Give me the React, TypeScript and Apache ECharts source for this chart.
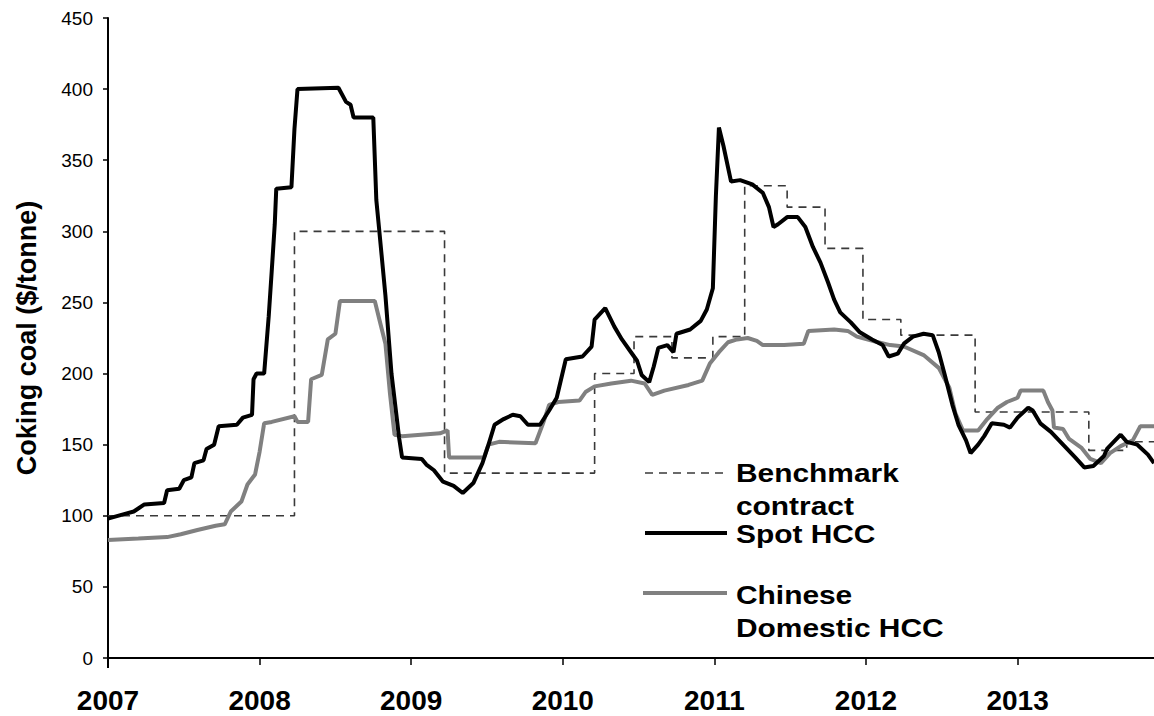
import React, { useEffect, useRef } from "react";
import * as echarts from "echarts";

// Year ticks
const yearTicks = [2007, 2008, 2009, 2010, 2011, 2012, 2013];

// Benchmark contract (step changes: [year, $/tonne])
const benchmark: [number, number][] = [
  [2007.0, 100],
  [2008.23, 300],
  [2009.22, 130],
  [2010.21, 200],
  [2010.47, 226],
  [2010.72, 211],
  [2010.99, 226],
  [2011.2, 332],
  [2011.48, 317],
  [2011.73, 288],
  [2011.98, 238],
  [2012.23, 227],
  [2012.72, 173],
  [2013.47, 146],
  [2013.72, 152],
  [2013.9, 152],
];

// Spot HCC
const spotHcc: [number, number][] = [
  [2007.0, 98], [2007.1, 101], [2007.17, 103], [2007.24, 108], [2007.37, 109],
  [2007.39, 118], [2007.47, 119], [2007.5, 125], [2007.55, 127], [2007.57, 137],
  [2007.63, 139], [2007.65, 147], [2007.7, 150], [2007.73, 163], [2007.85, 164],
  [2007.89, 169], [2007.95, 171], [2007.96, 196], [2007.98, 200], [2008.03, 200],
  [2008.06, 240], [2008.08, 272], [2008.1, 305], [2008.11, 330], [2008.21, 331],
  [2008.23, 372], [2008.25, 400], [2008.52, 401], [2008.57, 391], [2008.6, 389],
  [2008.62, 380], [2008.75, 380], [2008.77, 322], [2008.79, 300], [2008.83, 255],
  [2008.87, 200], [2008.92, 155], [2008.94, 141], [2009.07, 140], [2009.1, 136],
  [2009.15, 132], [2009.21, 124], [2009.28, 121], [2009.34, 116], [2009.41, 123],
  [2009.47, 137], [2009.51, 150], [2009.55, 164], [2009.61, 168], [2009.67, 171],
  [2009.72, 170], [2009.77, 164], [2009.85, 164], [2009.91, 174], [2009.96, 183],
  [2010.02, 210], [2010.13, 212], [2010.19, 219], [2010.21, 238], [2010.28, 246],
  [2010.34, 233], [2010.39, 224], [2010.45, 215], [2010.49, 209], [2010.52, 199],
  [2010.57, 194], [2010.6, 205], [2010.63, 218], [2010.69, 220], [2010.73, 215],
  [2010.75, 228], [2010.84, 231], [2010.91, 237], [2010.95, 245], [2010.99, 260],
  [2011.01, 325], [2011.03, 373], [2011.06, 360], [2011.11, 335], [2011.17, 336],
  [2011.25, 333], [2011.32, 327], [2011.36, 317], [2011.39, 303], [2011.42, 305],
  [2011.48, 310], [2011.55, 310], [2011.6, 303], [2011.65, 289], [2011.7, 278],
  [2011.75, 264], [2011.79, 252], [2011.83, 243], [2011.9, 236], [2011.96, 229],
  [2012.04, 224], [2012.11, 220], [2012.15, 212], [2012.21, 214], [2012.25, 221],
  [2012.31, 226], [2012.38, 228], [2012.44, 227], [2012.48, 215], [2012.52, 199],
  [2012.57, 178], [2012.61, 164], [2012.66, 153], [2012.69, 144], [2012.74, 150],
  [2012.78, 156], [2012.83, 165], [2012.91, 164], [2012.95, 162], [2013.0, 169],
  [2013.07, 176], [2013.1, 174], [2013.15, 165], [2013.22, 159], [2013.3, 150],
  [2013.38, 141], [2013.44, 134], [2013.5, 135], [2013.57, 142], [2013.59, 147],
  [2013.68, 157], [2013.72, 152], [2013.79, 150], [2013.86, 143], [2013.9, 137],
];

// Chinese Domestic HCC
const chineseHcc: [number, number][] = [
  [2007.0, 83], [2007.2, 84], [2007.39, 85], [2007.48, 87], [2007.59, 90],
  [2007.71, 93], [2007.77, 94], [2007.81, 103], [2007.88, 110], [2007.92, 122],
  [2007.97, 129], [2008.0, 145], [2008.03, 165], [2008.08, 166], [2008.23, 170],
  [2008.25, 166], [2008.32, 166], [2008.34, 196], [2008.41, 199], [2008.45, 224],
  [2008.5, 228], [2008.53, 251], [2008.76, 251], [2008.79, 238], [2008.83, 221],
  [2008.86, 186], [2008.89, 157], [2008.94, 156], [2009.19, 158], [2009.24, 160],
  [2009.25, 141], [2009.48, 141], [2009.51, 150], [2009.58, 152], [2009.82, 151],
  [2009.87, 165], [2009.91, 178], [2009.97, 180], [2010.11, 181], [2010.15, 187],
  [2010.21, 191], [2010.32, 193], [2010.45, 195], [2010.54, 193], [2010.59, 185],
  [2010.67, 188], [2010.83, 192], [2010.92, 195], [2010.97, 207], [2011.03, 215],
  [2011.09, 222], [2011.15, 224], [2011.22, 225], [2011.28, 223], [2011.32, 220],
  [2011.46, 220], [2011.59, 221], [2011.62, 230], [2011.79, 231], [2011.88, 230],
  [2011.94, 226], [2012.08, 222], [2012.16, 220], [2012.25, 219], [2012.38, 213],
  [2012.48, 204], [2012.55, 190], [2012.59, 172], [2012.64, 160], [2012.74, 160],
  [2012.8, 168], [2012.87, 176], [2012.93, 180], [2013.0, 183], [2013.02, 188],
  [2013.17, 188], [2013.2, 180], [2013.23, 174], [2013.24, 162], [2013.3, 161],
  [2013.34, 154], [2013.42, 148], [2013.48, 140], [2013.55, 137], [2013.61, 144],
  [2013.68, 149], [2013.76, 153], [2013.81, 163], [2013.9, 163],
];

const legendLabels = {
  benchmark: ["Benchmark", "contract"],
  spot: ["Spot HCC"],
  chinese: ["Chinese", "Domestic HCC"],
};

const FONT = '"Liberation Sans", Arial, sans-serif';

export default function App() {
  const ref = useRef<HTMLDivElement>(null);

  useEffect(() => {
    if (!ref.current) return;
    const chart = echarts.init(ref.current, undefined, { renderer: "svg" });

    const legendText = (text: string, x: number, y: number) => ({
      type: "text",
      x,
      y,
      scaleX: 1.15,
      style: {
        text,
        fontFamily: FONT,
        fontSize: 26,
        fontWeight: "bold",
        fill: "#000",
        textAlign: "left",
        textVerticalAlign: "middle",
        verticalAlign: "middle",
      },
    });

    chart.setOption({
      animation: false,
      backgroundColor: "#ffffff",
      grid: { left: 108, right: 0, top: 18, bottom: 58 },
      xAxis: {
        type: "value",
        min: yearTicks[0],
        max: 2013.9,
        interval: 1,
        axisLine: { show: true, onZero: false, lineStyle: { color: "#000", width: 2 } },
        axisTick: { show: true, length: 7, lineStyle: { color: "#000", width: 1.5 } },
        axisLabel: {
          showMaxLabel: false,
          formatter: (v: number) => (yearTicks.includes(Math.round(v * 1000) / 1000) ? String(v) : ""),
          fontFamily: FONT,
          fontSize: 28,
          fontWeight: "bold",
          color: "#000",
          margin: 28,
        },
        splitLine: { show: false },
      },
      yAxis: {
        type: "value",
        min: 0,
        max: 450,
        interval: 50,
        name: "Coking coal ($/tonne)",
        nameLocation: "middle",
        nameGap: 68,
        nameRotate: 90,
        nameTextStyle: { fontFamily: FONT, fontSize: 27, fontWeight: "bold", color: "#000" },
        axisLine: { show: true, lineStyle: { color: "#000", width: 2 } },
        axisTick: { show: true, length: 5, lineStyle: { color: "#000", width: 1.5 } },
        axisLabel: { fontFamily: FONT, fontSize: 19, color: "#000", margin: 15 },
        splitLine: { show: false },
      },
      series: [
        {
          name: "Benchmark contract",
          type: "line",
          step: "end",
          data: benchmark,
          showSymbol: false,
          lineStyle: { color: "#3a3a3a", width: 1.6, type: [8, 6] },
          z: 2,
        },
        {
          name: "Chinese Domestic HCC",
          type: "line",
          data: chineseHcc,
          showSymbol: false,
          lineStyle: { color: "#808080", width: 4 },
          z: 3,
        },
        {
          name: "Spot HCC",
          type: "line",
          data: spotHcc,
          showSymbol: false,
          lineStyle: { color: "#000", width: 4 },
          z: 4,
        },
      ],
      graphic: [
        { type: "line", shape: { x1: 108, y1: 657, x2: 108, y2: 668 }, style: { stroke: "#000", lineWidth: 2 } },
        { type: "line", shape: { x1: 645, y1: 473, x2: 725, y2: 473 }, style: { stroke: "#3a3a3a", lineWidth: 1.6, lineDash: [8, 6] } },
        { type: "line", shape: { x1: 645, y1: 533, x2: 727, y2: 533 }, style: { stroke: "#000", lineWidth: 4 } },
        { type: "line", shape: { x1: 643, y1: 593, x2: 727, y2: 593 }, style: { stroke: "#808080", lineWidth: 4 } },
        legendText(legendLabels.benchmark[0], 736, 473),
        legendText(legendLabels.benchmark[1], 736, 506),
        legendText(legendLabels.spot[0], 736, 534),
        legendText(legendLabels.chinese[0], 736, 595),
        legendText(legendLabels.chinese[1], 736, 628),
      ],
    });

    return () => chart.dispose();
  }, []);

  return (
    <div
      ref={ref}
      style={{ position: "absolute", left: 0, top: 0, width: 1154, height: 716, background: "#fff" }}
    />
  );
}
